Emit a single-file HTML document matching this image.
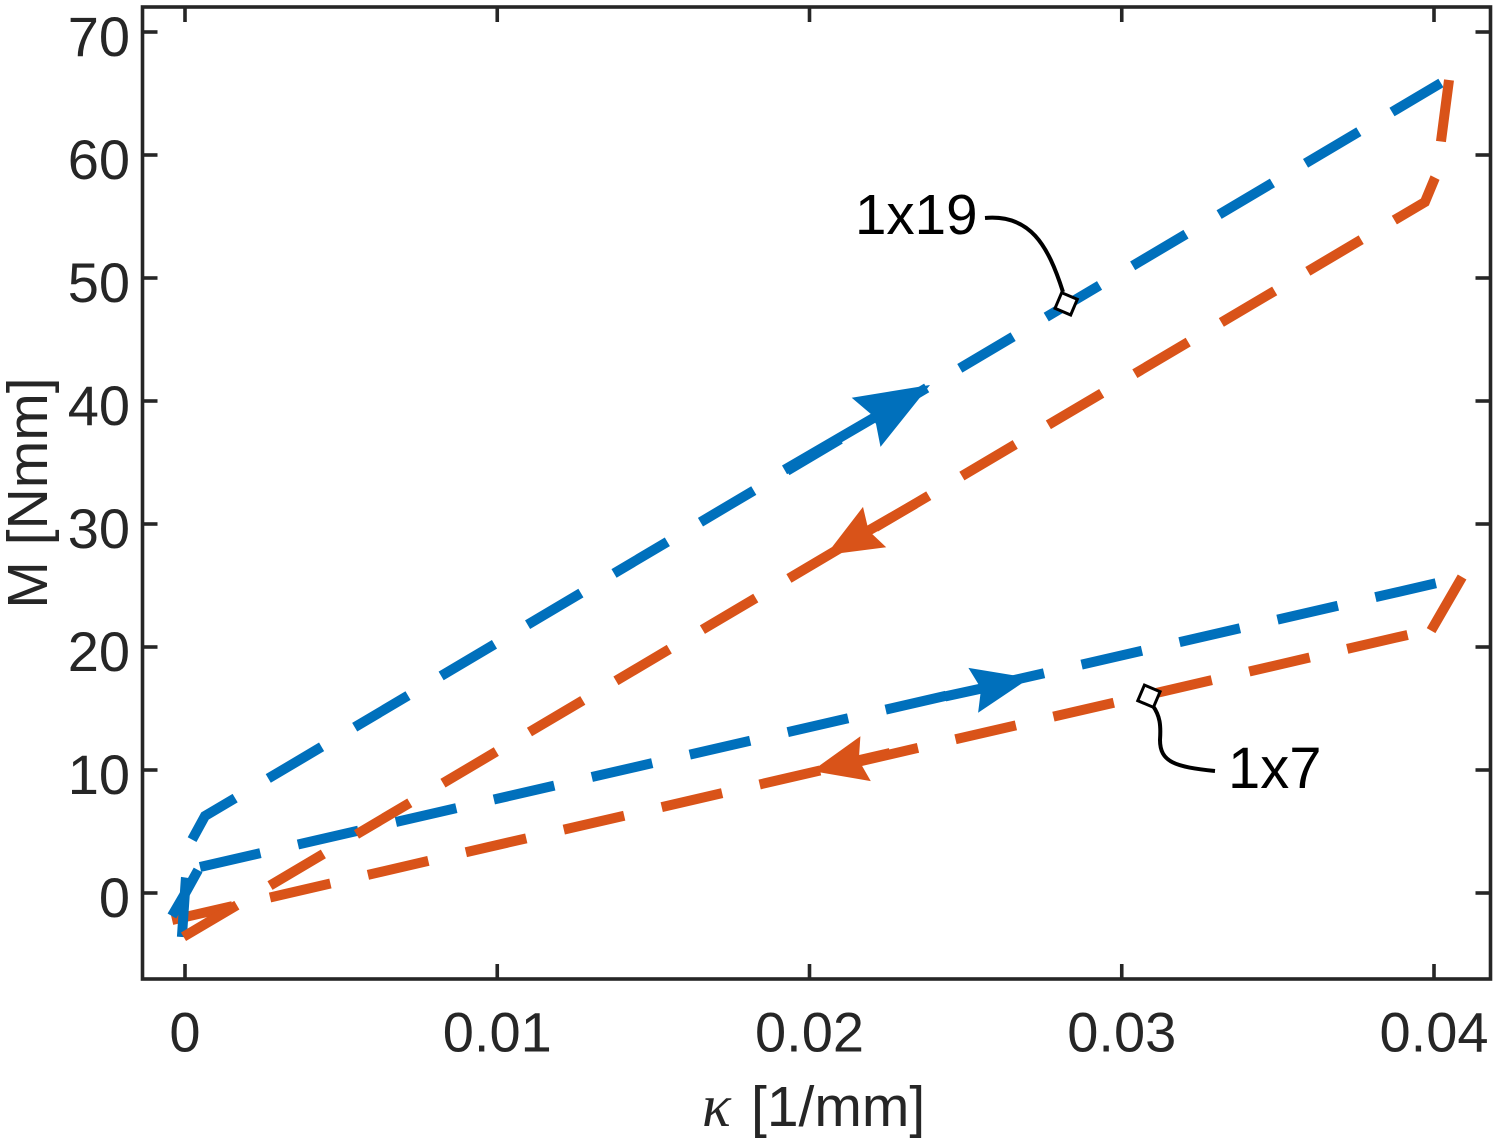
<!DOCTYPE html>
<html>
<head>
<meta charset="utf-8">
<title>Moment curvature chart</title>
<style>
html,body{margin:0;padding:0;background:#fff;}
svg{display:block;}
text{font-family:"Liberation Sans",Arial,sans-serif;}
</style>
</head>
<body>
<svg id="chart" xmlns="http://www.w3.org/2000/svg" width="1498" height="1144" viewBox="0 0 1498 1144">
  <rect x="0" y="0" width="1498" height="1144" fill="#ffffff"/>
  <g id="series"></g>
  <g id="axes"></g>
  <path d="M985 218 C1030 214,1048 245,1063 292" fill="none" stroke="#000" stroke-width="4"/>
  <path d="M1153 706 C1160 716,1161 725,1160 740 C1160 762,1175 767,1215 771" fill="none" stroke="#000" stroke-width="4"/>
  <g id="markers"></g>
  <text x="855" y="234" font-size="56.5" fill="#000">1x19</text>
  <text x="1228" y="788" font-size="58" fill="#000">1x7</text>
  <text y="1126" font-size="57" fill="#262626"><tspan x="702" font-size="60" font-family="'Liberation Serif',serif" font-style="italic">κ</tspan><tspan x="751">[1/mm]</tspan></text>
  <text transform="translate(47,493) rotate(-90)" font-size="57" fill="#262626" text-anchor="middle">M [Nmm]</text>
</svg>
<script>
// Tick values and labels
const xTicks = [0, 0.01, 0.02, 0.03, 0.04];
const xTickLabels = ['0', '0.01', '0.02', '0.03', '0.04'];
const yTicks = [0, 10, 20, 30, 40, 50, 60, 70];
const yTickLabels = ['0', '10', '20', '30', '40', '50', '60', '70'];

// Series: curvature [1/mm] and moment [Nmm]
const blue1x19K = [-0.0001, 0.00003, 0.00022, 0.00064, 0.04022];
const blue1x19M = [-3.58, 1.22, 4.31, 6.26, 65.85];
const orange1x19K = [0.04048, 0.04022, 0.04032, 0.04003, 0.03971, -0.00006];
const orange1x19M = [66.1, 61.06, 59.59, 58.13, 56.18, -3.58];
const blue1x7LeadK = [-0.00042, 0.00003, 0.00042];
const blue1x7LeadM = [-1.87, 0.08, 1.87];
const blue1x7K = [0.00048, 0.0401];
const blue1x7M = [2.11, 25.2];
const orange1x7K = [0.0409, 0.0399, 0.03949, 0.03916, -0.00042];
const orange1x7M = [25.69, 21.3, 19.92, 20.98, -2.2];

// Direction arrows: tail and tip points
const arrowTailK = [0.0192, 0.02338, 0.02434, 0.02258];
const arrowTailM = [34.4, 31.63, 15.98, 11.38];
const arrowTipK = [0.02386, 0.02053, 0.02706, 0.02008];
const arrowTipM = [41.3, 27.48, 17.48, 9.92];

// Marker anchors
const markerK = [0.02822, 0.03087];
const markerM = [47.9, 16.0];

const NS = 'http://www.w3.org/2000/svg';
const sx = k => 185 + k * 31225;
const sy = m => 893 - m * 12.3;
const BLUE = '#0070bc';
const ORANGE = '#d95319';
const INK = '#262626';

function make(tag, parent, attrs) {
  const el = document.createElementNS(NS, tag);
  for (const key in attrs) el.setAttribute(key, attrs[key]);
  parent.appendChild(el);
  return el;
}

function pointsOf(ks, ms) {
  return ks.map((k, i) => sx(k).toFixed(1) + ',' + sy(ms[i]).toFixed(1)).join(' ');
}

const seriesLayer = document.getElementById('series');
const axesLayer = document.getElementById('axes');
const markerLayer = document.getElementById('markers');

function drawLine(name, ks, ms, color, dash, offset) {
  const el = make('polyline', seriesLayer, {
    points: pointsOf(ks, ms), fill: 'none', stroke: color, 'stroke-width': 10,
    'stroke-linejoin': 'miter', 'stroke-dasharray': dash, 'stroke-dashoffset': offset
  });
  
  
}

drawLine('series-1x7-unloading', orange1x7K, orange1x7M, ORANGE, '62 38.5', 0);
drawLine('series-1x7-loading-lead', blue1x7LeadK, blue1x7LeadM, BLUE, 'none', 0);
drawLine('series-1x7-loading', blue1x7K, blue1x7M, BLUE, '62 38.5', 0);
drawLine('series-1x19-loading', blue1x19K, blue1x19M, BLUE, '62 38.5', 2.5);
drawLine('series-1x19-unloading', orange1x19K, orange1x19M, ORANGE, '62 38.5', 0);

function drawArrow(i, color, lineW, len, halfW, notch) {
  const tx = sx(arrowTailK[i]), ty = sy(arrowTailM[i]);
  const px = sx(arrowTipK[i]), py = sy(arrowTipM[i]);
  const d = Math.hypot(px - tx, py - ty);
  const ux = (px - tx) / d, uy = (py - ty) / d;
  const nx = -uy, ny = ux;
  const line = make('line', seriesLayer, {
    x1: tx, y1: ty, x2: px - ux * 25, y2: py - uy * 25, stroke: color, 'stroke-width': lineW
  });
  
  
  const pts = [
    [px, py],
    [px - ux * len + nx * halfW, py - uy * len + ny * halfW],
    [px - ux * notch, py - uy * notch],
    [px - ux * len - nx * halfW, py - uy * len - ny * halfW]
  ].map(p => p[0].toFixed(1) + ',' + p[1].toFixed(1)).join(' ');
  const head = make('polygon', seriesLayer, { points: pts, fill: color });
  
  
}

drawArrow(0, BLUE, 10, 74, 28.5, 64);
drawArrow(1, ORANGE, 10, 56, 23.3, 49);
drawArrow(2, BLUE, 10, 58, 22.9, 50);
drawArrow(3, ORANGE, 10, 55, 23, 48);

markerK.forEach((k, i) => {
  const cx = sx(k), cy = sy(markerM[i]);
  const r = make('rect', markerLayer, {
    x: cx - 8.5, y: cy - 8.5, width: 17, height: 17, fill: '#fff', stroke: '#000',
    'stroke-width': 3, transform: 'rotate(23 ' + cx + ' ' + cy + ')'
  });
  
  
});

// Axes box
const L = 142.5, R = 1490.5, T = 7, B = 979;
const box = make('rect', axesLayer, {
  x: L, y: T, width: R - L, height: B - T, fill: 'none', stroke: INK, 'stroke-width': 3.6
});



xTicks.forEach((v, i) => {
  const x = sx(v);
  [[B, B - 15], [T, T + 15]].forEach(s => {
    const t = make('line', axesLayer, { x1: x, y1: s[0], x2: x, y2: s[1], stroke: INK, 'stroke-width': 3.6 });
    
    
  });
  const lab = make('text', axesLayer, { x: x, y: 1051.5, 'font-size': 56, fill: INK, 'text-anchor': 'middle' });
  lab.textContent = xTickLabels[i];
  
  
});

yTicks.forEach((v, i) => {
  const y = sy(v);
  [[L, L + 15], [R, R - 15]].forEach(s => {
    const t = make('line', axesLayer, { x1: s[0], y1: y, x2: s[1], y2: y, stroke: INK, 'stroke-width': 3.6 });
    
    
  });
  const lab = make('text', axesLayer, { x: 130, y: y + 24, 'font-size': 56, fill: INK, 'text-anchor': 'end' });
  lab.textContent = yTickLabels[i];
  
  
});
</script>
</body>
</html>
